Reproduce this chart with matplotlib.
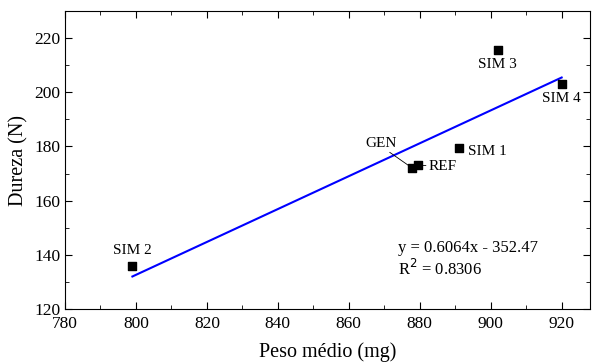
import matplotlib.pyplot as plt
from matplotlib.ticker import MultipleLocator
import numpy as np

plt.rcParams['font.family'] = ['Liberation Serif', 'DejaVu Serif']

labels = ["SIM 1", "SIM 2", "SIM 3", "SIM 4", "REF", "GEN"]
peso = [891.0, 799.0, 902.0, 920.0, 879.4, 877.7]
dureza = [179.5, 136.0, 215.7, 203.2, 173.1, 172.2]
slope, intercept = 0.6064, -352.47
r2 = 0.8306

fig = plt.figure(figsize=(5.93, 3.62), dpi=100)
ax = fig.add_axes([0.1096, 0.146, 0.8854, 0.824])

xfit = np.array([min(peso), max(peso)])
ax.plot(xfit, slope * xfit + intercept, color='#0000ff', lw=1.5, zorder=2)
ax.scatter(peso, dureza, marker='s', s=38, color='black', zorder=3)

# point labels
offsets = {
    "SIM 1": (7, -2.5, 'left', 'center'),
    "SIM 2": (0, 6, 'center', 'bottom'),
    "SIM 3": (0, -6, 'center', 'top'),
    "SIM 4": (0, -6, 'center', 'top'),
}
for lab, x, y in zip(labels, peso, dureza):
    if lab in offsets:
        dx, dy, ha, va = offsets[lab]
        ax.annotate(lab, (x, y), xytext=(dx, dy), textcoords='offset points',
                    ha=ha, va=va, fontsize=11)
ax.annotate("REF", (peso[4], dureza[4]), xytext=(8, -1), textcoords='offset points',
            ha='left', va='center', fontsize=11,
            arrowprops=dict(arrowstyle='-', color='black', lw=0.6, shrinkA=0, shrinkB=2))
ax.annotate("GEN", (peso[5], dureza[5]), xytext=(-22, 13), textcoords='offset points',
            ha='center', va='bottom', fontsize=11,
            arrowprops=dict(arrowstyle='-', color='black', lw=0.6, shrinkA=0, shrinkB=2,
                            relpos=(0.65, 0)))

ax.text(0.635, 0.232, f"y = {slope}x - {abs(intercept)}\nR$^2$ = {r2}",
        transform=ax.transAxes, fontsize=12, va='top', ha='left', linespacing=1.2)

ax.set_xlim(780, 928)
ax.set_ylim(120, 230)
ax.xaxis.set_major_locator(MultipleLocator(20))
ax.xaxis.set_minor_locator(MultipleLocator(10))
ax.yaxis.set_major_locator(MultipleLocator(20))
ax.yaxis.set_minor_locator(MultipleLocator(10))
ax.tick_params(which='both', direction='in', top=True, right=True, labelsize=12.5)
ax.tick_params(which='major', length=5)
ax.tick_params(which='minor', length=3)
ax.tick_params(axis='x', pad=5)

ax.set_xlabel("Peso médio (mg)", fontsize=14.5, labelpad=7)
ax.set_ylabel("Dureza (N)", fontsize=14.5, labelpad=4)

fig.savefig("out.png", dpi=100)
